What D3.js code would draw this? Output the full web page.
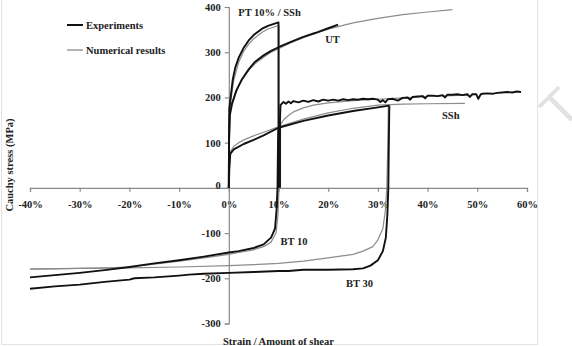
<!DOCTYPE html>
<html><head><meta charset="utf-8">
<script src="https://cdn.jsdelivr.net/npm/d3@7"></script>
<style>
body{margin:0;background:#fff;}
text{font-family:"Liberation Serif","Times New Roman",serif;font-weight:bold;}
</style></head>
<body><svg id="c" width="572" height="346"></svg>
<script>
// ---- data (strain %, Cauchy stress MPa) ----
const xTicks = [-40,-30,-20,-10,0,10,20,30,40,50,60];
const yTicks = [-300,-200,-100,0,100,200,300,400];
const legendLabels = ["Experiments","Numerical results"];

const ptExp = [[0,0],[0.05,120],[0.1,175],[0.3,194],[0.8,240],[1.3,266],[2,288],[3,310],[4,326],[5,338],[6.7,352],[8,359],[9.7,365],[10,366],[10,0]];
const ptNum = [[0,0],[0.1,150],[0.3,185],[1,238],[2,278],[3,302],[4,318],[5,330],[6.7,344],[8,352],[9.7,358],[10.1,358],[10.1,0]];

const utExp = [[0,0],[0.05,100],[0.2,160],[0.6,185],[1.5,215],[2.6,239],[4,262],[5.3,279],[7,293],[8.5,303],[10,311],[12.5,323],[15,334],[17.5,343],[20,353],[22,361]];
const utNum = [[0,0],[0.1,110],[0.3,165],[1,195],[2,226],[3,246],[4,260],[5.3,275],[7,289],[8.5,300],[10,308],[12.5,321],[15,332],[17.5,342],[20,351],[25,365],[30,375],[35,383],[40,389],[45,394]];

const pssExp = [[10.3,0],[10.3,150],[10.4,183],[11,190],[11.5,186],[12,191],[12.5,187],[13,192],[14,189],[15,193],[16,190],[17,194],[18,191],[19,195],[20,193],[21,195],[22,193],[23,196],[24,194],[25,196],[26,195],[27,197],[28,196],[29,197],[30,195],[30.5,190],[31,194],[31.5,189],[32,196],[33,197],[34,193],[35,199],[36,200],[36.5,195],[37,201],[38,202],[39,203],[39.5,198],[40,204],[41,204],[42,203],[43,205],[43.5,200],[44,206],[45,206],[46,207],[47,205],[48,207],[48.5,201],[49,207],[49.8,207],[50.2,197],[50.7,207],[51,208],[52,209],[53,208],[54,210],[55,211],[56,212],[57,211],[58,213],[58.8,212]];
const pssNum = [[10.4,0],[10.4,140],[11,150],[12,160],[13,168],[15,177],[17,183],[20,188],[25,193],[30,196],[35,199],[40,202],[45,204],[48,205]];

const sshExp = [[0,0],[0.1,40],[0.3,75],[1,85],[3,97],[5,106],[7,116],[10,133],[15,148],[20,160],[25,170],[30,178],[32.3,182]];
const sshNum = [[0,0],[0.1,50],[0.3,80],[1,92],[2,100],[3,106],[5,115],[7,123],[10,135],[15,152],[20,166],[25,176],[30,183],[35,185],[40,186],[47.5,187]];

const bt10Exp = [[10,133],[9.9,100],[9.8,0],[9.6,-50],[9.3,-90],[8.5,-110],[7,-125],[5,-133],[2,-140],[0,-143],[-5,-152],[-10,-160],[-15,-167],[-20,-175],[-25,-182],[-30,-188],[-35,-193],[-40,-198]];
const bt10Num = [[10.3,135],[10.2,100],[10.1,0],[9.9,-60],[9.5,-100],[8.5,-120],[7,-130],[5,-137],[2,-143],[0,-147],[-5,-155],[-10,-162],[-15,-169],[-20,-175],[-25,-177],[-30,-178],[-35,-179],[-40,-180]];

const bt30Exp = [[32.3,182],[32.2,100],[32.1,0],[31.9,-60],[31.6,-110],[31,-140],[30,-160],[28.5,-172],[27,-178],[25,-180],[20,-181],[15,-181],[12,-184],[10,-184],[5,-186],[0,-188],[-5,-190],[-8,-192],[-10,-194],[-15,-198],[-19,-200],[-20,-203],[-25,-208],[-30,-214],[-35,-218],[-40,-223]];
const bt30Num = [[32.1,180],[32,100],[31.8,0],[31.5,-50],[31,-90],[30,-115],[29,-130],[27,-140],[25,-147],[20,-155],[15,-162],[10,-167],[5,-170],[0,-172],[-10,-175],[-20,-177],[-30,-178],[-40,-179]];

const annotations = [
  {t:"PT 10% / SSh", x:1.9, y:389},
  {t:"UT", x:19.4, y:329},
  {t:"SSh", x:42.9, y:161},
  {t:"BT 10", x:10.4, y:-119},
  {t:"BT 30", x:23.6, y:-212}
];

// ---- drawing ----
const svg = d3.select("#c");
const x = d3.scaleLinear().domain([-40,60]).range([30,527]);
const y = d3.scaleLinear().domain([-300,400]).range([323.5,7]);

// frame
svg.append("rect").attr("x",1.5).attr("y",-2).attr("width",536).attr("height",346.5)
  .attr("fill","none").attr("stroke","#e3e3e3").attr("stroke-width",1);

// watermark fragment
svg.append("text").attr("transform","translate(548,96) rotate(-45)")
  .attr("text-anchor","middle").attr("y",34)
  .style("font-family","Liberation Sans, Arial, sans-serif").style("font-weight","normal")
  .style("font-size","50px").attr("fill","#e2e2e2").text("T");

const gx = svg.append("g").attr("transform",`translate(0,${y(0)})`)
  .call(d3.axisBottom(x).tickValues(xTicks).tickSize(4).tickPadding(9).tickFormat(d=>d+"%"));
const gy = svg.append("g").attr("transform",`translate(${x(0)},0)`)
  .call(d3.axisLeft(y).tickValues(yTicks).tickSize(4).tickPadding(4).tickFormat(d=>String(d)));
[gx,gy].forEach(g=>{
  g.select(".domain").attr("stroke","#8a8a8a").attr("stroke-width",1.2);
  g.selectAll(".tick line").attr("stroke","#8a8a8a").attr("stroke-width",1.2);
  g.selectAll("text").attr("fill","#222").style("font-size","10.5px")
   .style("font-family","Liberation Serif, serif").style("font-weight","bold");
});
gy.selectAll(".tick").filter(d=>d===0).select("text").attr("dy","0.1em");

const line = d3.line().x(d=>x(d[0])).y(d=>y(d[1]));
const numSeries = [utNum, ptNum, pssNum, sshNum, bt10Num, bt30Num];
const expSeries = [utExp, ptExp, pssExp, sshExp, bt10Exp, bt30Exp];
numSeries.forEach(s=>svg.append("path").attr("d",line(s)).attr("fill","none")
  .attr("stroke","#8c8c8c").attr("stroke-width",1.2).attr("stroke-linejoin","round"));
expSeries.forEach(s=>svg.append("path").attr("d",line(s)).attr("fill","none")
  .attr("stroke","#111").attr("stroke-width",1.9).attr("stroke-linejoin","round"));

// legend
const leg = svg.append("g");
legendLabels.forEach((t,i)=>{
  const yy = 25 + i*25;
  leg.append("line").attr("x1",67).attr("x2",83).attr("y1",yy).attr("y2",yy)
    .attr("stroke", i===0?"#111":"#8c8c8c").attr("stroke-width", i===0?2:1.3);
  leg.append("text").attr("x",86).attr("y",yy).attr("dy","0.35em")
    .style("font-size","10.5px").attr("fill","#222").text(t);
});

// annotations
annotations.forEach(a=>svg.append("text").attr("x",x(a.x)).attr("y",y(a.y)).attr("dy","0.35em")
  .style("font-size","10.5px").attr("fill","#222").text(a.t));

// axis titles
svg.append("text").attr("transform","translate(9,165) rotate(-90)").attr("text-anchor","middle")
  .attr("dy","0.35em").style("font-size","10.5px").attr("fill","#222").text("Cauchy stress (MPa)");
svg.append("text").attr("x",223).attr("y",341).attr("dy","0.35em")
  .style("font-size","10.5px").attr("fill","#222").text("Strain / Amount of shear");
</script></body></html>
